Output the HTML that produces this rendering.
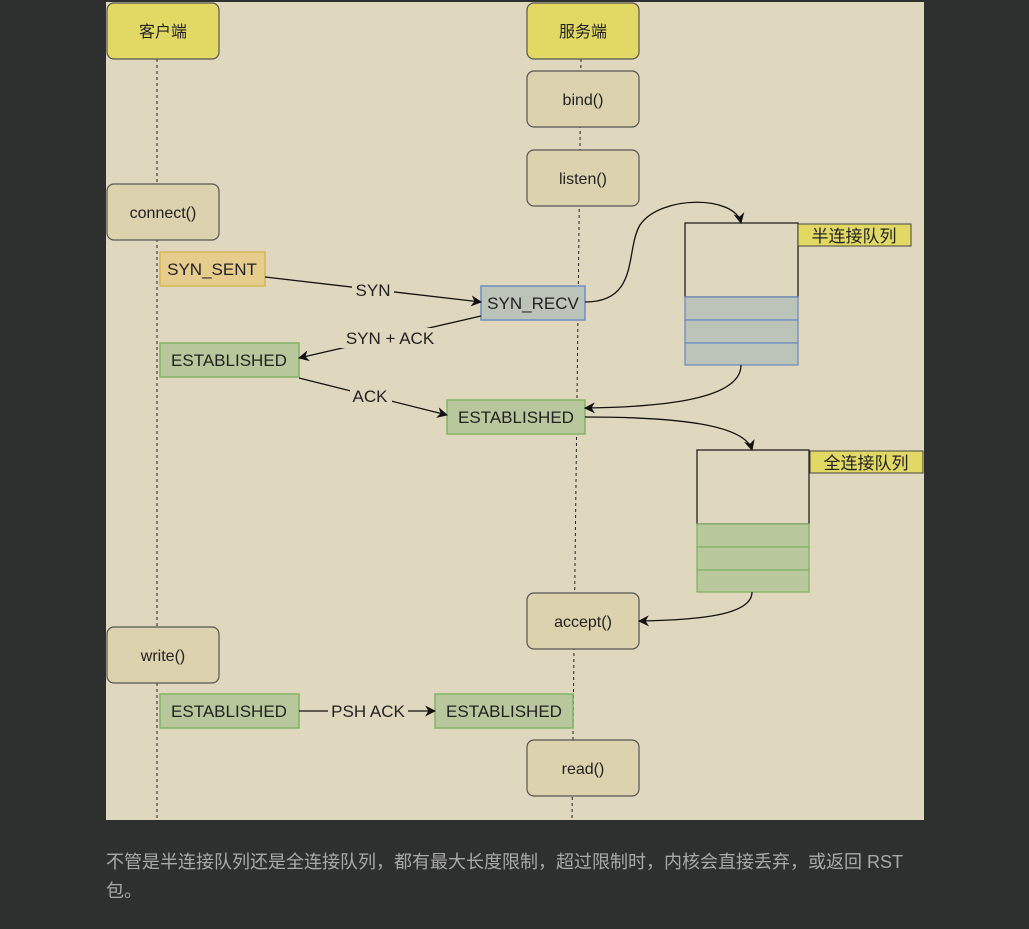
<!DOCTYPE html>
<html><head><meta charset="utf-8"><style>
html,body{margin:0;padding:0;background:#2e2f2f;width:1029px;height:929px;overflow:hidden}
svg{position:absolute;left:0;top:0}
.cap{position:absolute;left:106px;color:#a9a9a9;font:18px "Liberation Sans","Noto Sans CJK SC",sans-serif;white-space:nowrap}
</style></head><body>
<svg width="1029" height="929" viewBox="0 0 1029 929" font-family="Liberation Sans, Noto Sans CJK SC, sans-serif">
<defs><marker id="a" viewBox="0 0 10 10" refX="9" refY="5" markerWidth="11" markerHeight="11" orient="auto" markerUnits="userSpaceOnUse"><path d="M0,0 L10,5 L0,10 L3,5 z" fill="#111"/></marker></defs>
<rect x="106" y="2" width="818" height="818" fill="#e0d8be"/>
<line x1="157" y1="59" x2="157" y2="820" stroke="#222" stroke-dasharray="3,3"/>
<line x1="581" y1="59" x2="572" y2="820" stroke="#222" stroke-dasharray="3,3"/>
<g stroke="#555" stroke-width="1.2">
<rect x="107" y="3" width="112" height="56" rx="7" fill="#e2d864"/>
<rect x="527" y="3" width="112" height="56" rx="7" fill="#e2d864"/>
<rect x="527" y="71" width="112" height="56" rx="7" fill="#dcd2ae"/>
<rect x="527" y="150" width="112" height="56" rx="7" fill="#dcd2ae"/>
<rect x="107" y="184" width="112" height="56" rx="7" fill="#dcd2ae"/>
<rect x="527" y="593" width="112" height="56" rx="7" fill="#dcd2ae"/>
<rect x="107" y="627" width="112" height="56" rx="7" fill="#dcd2ae"/>
<rect x="527" y="740" width="112" height="56" rx="7" fill="#dcd2ae"/>
</g>
<g font-size="16" fill="#222" text-anchor="middle">
<text x="163" y="37">客户端</text><text x="583" y="37">服务端</text>
<text x="583" y="105">bind()</text><text x="583" y="184">listen()</text>
<text x="163" y="218">connect()</text><text x="583" y="627">accept()</text>
<text x="163" y="661">write()</text><text x="583" y="774">read()</text>
</g>
<rect x="160" y="252" width="105" height="34" fill="#e6cd8e" stroke="#d6b656" stroke-width="1.5"/>
<rect x="481" y="286" width="104" height="34" fill="#bcc3b9" stroke="#6c8ebf" stroke-width="1.5"/>
<g fill="#b8c79c" stroke="#82b366" stroke-width="1.5">
<rect x="160" y="343" width="139" height="34"/><rect x="447" y="400" width="138" height="34"/>
<rect x="160" y="694" width="139" height="34"/><rect x="435" y="694" width="138" height="34"/>
</g>
<g font-size="17" fill="#222" text-anchor="middle">
<text x="212" y="275">SYN_SENT</text><text x="533" y="309">SYN_RECV</text>
<text x="229" y="366">ESTABLISHED</text><text x="516" y="423">ESTABLISHED</text>
<text x="229" y="717">ESTABLISHED</text><text x="504" y="717">ESTABLISHED</text>
</g>
<rect x="685" y="223" width="113" height="74" fill="none" stroke="#222" stroke-width="1.3"/>
<g fill="#bcc3b9" stroke="#6c8ebf" stroke-width="1.3"><rect x="685" y="297" width="113" height="23"/><rect x="685" y="320" width="113" height="23"/><rect x="685" y="343" width="113" height="22"/></g>
<rect x="798" y="224" width="113" height="22" fill="#e2d864" stroke="#444"/>
<text x="854" y="242" font-size="17" text-anchor="middle" fill="#222">半连接队列</text>
<rect x="697" y="450" width="112" height="74" fill="none" stroke="#222" stroke-width="1.3"/>
<g fill="#b8c79c" stroke="#82b366" stroke-width="1.3"><rect x="697" y="524" width="112" height="23"/><rect x="697" y="547" width="112" height="23"/><rect x="697" y="570" width="112" height="22"/></g>
<rect x="810" y="451" width="113" height="22" fill="#e2d864" stroke="#444"/>
<text x="866" y="469" font-size="17" text-anchor="middle" fill="#222">全连接队列</text>
<g fill="none" stroke="#111" stroke-width="1.3" marker-end="url(#a)">
<path d="M265,277 L481,302"/>
<path d="M481,316 L299,358"/>
<path d="M299,378 L447,415"/>
<path d="M585,302 C640,302 625,250 640,225 C660,195 735,195 741,223"/>
<path d="M741,365 C741,400 660,407 585,408"/>
<path d="M585,417 C680,417 745,425 752,450"/>
<path d="M752,592 C752,615 700,620 639,621"/>
<path d="M299,711 L435,711"/>
</g>
<g font-size="17" fill="#222" text-anchor="middle">
<rect x="352" y="280" width="42" height="20" fill="#e0d8be"/><text x="373" y="296">SYN</text>
<rect x="340" y="328" width="100" height="20" fill="#e0d8be"/><text x="390" y="344">SYN + ACK</text>
<rect x="350" y="386" width="42" height="20" fill="#e0d8be"/><text x="370" y="402">ACK</text>
<rect x="328" y="701" width="80" height="20" fill="#e0d8be"/><text x="368" y="717">PSH ACK</text>
</g>
</svg>
<div class="cap" style="top:848px">不管是半连接队列还是全连接队列，都有最大长度限制，超过限制时，内核会直接丢弃，或返回 RST</div>
<div class="cap" style="top:877px">包。</div>
</body></html>
